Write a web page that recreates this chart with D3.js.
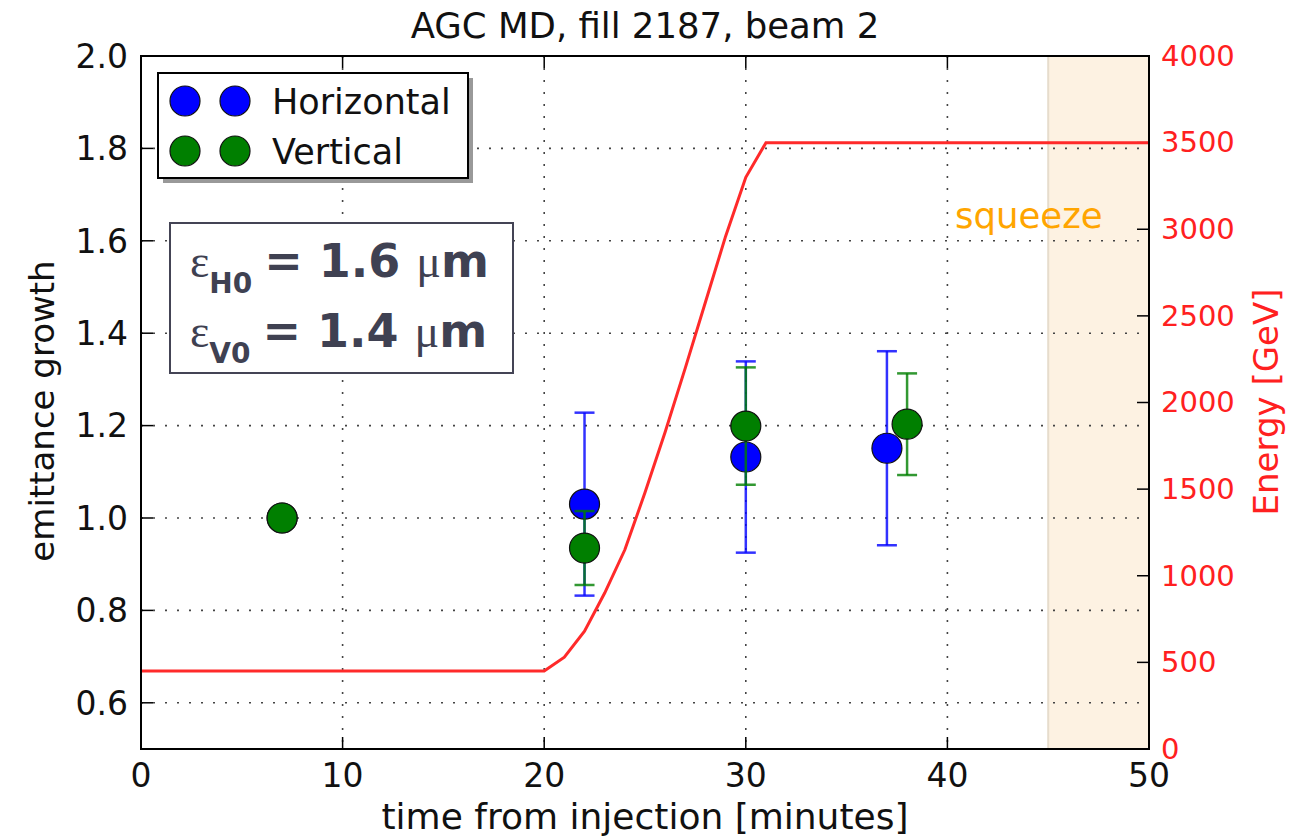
<!DOCTYPE html>
<html><head><meta charset="utf-8">
<script src="https://cdn.jsdelivr.net/npm/d3@7"></script>
<style>body{margin:0;background:#fff}svg text{font-family:"DejaVu Sans",sans-serif}</style>
</head><body><svg id="c" width="1293" height="836"></svg>
<script>
// ---- data ----
const xTicks = [0,10,20,30,40,50];
const yTicks = [0.6,0.8,1.0,1.2,1.4,1.6,1.8,2.0];
const eTicks = [0,500,1000,1500,2000,2500,3000,3500,4000];
const hTime = [7,22,30,37];
const hVal  = [1.0,1.03,1.132,1.151];
const hErr  = [0,0.198,0.207,0.21];
const vTime = [7,22,30,38];
const vVal  = [1.0,0.935,1.199,1.203];
const vErr  = [0,0.08,0.127,0.11];
const rampTime   = [0,20,21,22,23,24,25,26,27,28,29,30,31,50];
const rampEnergy = [450,450,530,680,900,1150,1480,1830,2200,2580,2960,3300,3500,3500];
const squeeze = [45,50];

const svg = d3.select("#c");
const L=141,R=1149,T=56,B=749;
const x = d3.scaleLinear().domain([0,50]).range([L,R]);
const y = d3.scaleLinear().domain([0.5,2.0]).range([B,T]);
const ye = d3.scaleLinear().domain([0,4000]).range([B,T]);

// squeeze span
svg.append("rect").attr("x",x(squeeze[0])).attr("y",T).attr("width",x(squeeze[1])-x(squeeze[0])).attr("height",B-T)
  .attr("fill","#fdf2e2");
svg.append("line").attr("x1",x(squeeze[0])).attr("x2",x(squeeze[0])).attr("y1",T).attr("y2",B).attr("stroke","#e6dccc").attr("stroke-width",2);

// grid
const grid = svg.append("g").attr("stroke","#444").attr("stroke-width",1.6).attr("stroke-dasharray","2,10");
xTicks.slice(1,-1).forEach(t=>grid.append("line").attr("x1",x(t)).attr("x2",x(t)).attr("y1",T).attr("y2",B));
yTicks.forEach(t=>grid.append("line").attr("x1",L).attr("x2",R).attr("y1",y(t)).attr("y2",y(t)));

// ticks (inward)
const tk = svg.append("g").attr("stroke","#000").attr("stroke-width",1.5);
xTicks.forEach(t=>{
  tk.append("line").attr("x1",x(t)).attr("x2",x(t)).attr("y1",B).attr("y2",B-12);
  tk.append("line").attr("x1",x(t)).attr("x2",x(t)).attr("y1",T).attr("y2",T+12);
});
yTicks.forEach(t=>tk.append("line").attr("x1",L).attr("x2",L+12).attr("y1",y(t)).attr("y2",y(t)));
eTicks.forEach(t=>tk.append("line").attr("x1",R).attr("x2",R-12).attr("y1",ye(t)).attr("y2",ye(t)));

// energy ramp
svg.append("path").datum(rampTime.map((t,i)=>[t,rampEnergy[i]]))
  .attr("d",d3.line().x(d=>x(d[0])).y(d=>ye(d[1])))
  .attr("fill","none").attr("stroke","#ff2a2a").attr("stroke-width",3);

// error bars + markers
function series(times,vals,errs,col){
  const g = svg.append("g");
  times.forEach((t,i)=>{
    if(errs[i]>0){
      const cx=x(t), y1=y(vals[i]+errs[i]), y2=y(vals[i]-errs[i]);
      g.append("line").attr("x1",cx).attr("x2",cx).attr("y1",y1).attr("y2",y2).attr("stroke",col).attr("stroke-width",2.5).attr("opacity",0.8);
      [y1,y2].forEach(yy=>g.append("line").attr("x1",cx-10).attr("x2",cx+10).attr("y1",yy).attr("y2",yy).attr("stroke",col).attr("stroke-width",2.5).attr("opacity",0.8));
    }
  });
  times.forEach((t,i)=>g.append("circle").attr("cx",x(t)).attr("cy",y(vals[i])).attr("r",15)
    .attr("fill",col).attr("stroke","#111").attr("stroke-width",1.2));
}
series(hTime,hVal,hErr,"#0000ff");
series(vTime,vVal,vErr,"#007f00");

// frame
svg.append("rect").attr("x",L).attr("y",T).attr("width",R-L).attr("height",B-T).attr("fill","none").attr("stroke","#000").attr("stroke-width",2);

// tick labels
const tl = svg.append("g").attr("font-size",33).attr("fill","#111");
xTicks.forEach(t=>tl.append("text").attr("x",x(t)).attr("y",787).attr("text-anchor","middle").text(t));
yTicks.forEach(t=>tl.append("text").attr("x",L-13).attr("y",y(t)).attr("dy","0.36em").attr("text-anchor","end").text(t.toFixed(1)));
const el = svg.append("g").attr("font-size",29).attr("fill","#ff2020");
eTicks.forEach(t=>el.append("text").attr("x",R+12).attr("y",ye(t)).attr("dy","0.34em").text(t));

// titles
svg.append("text").attr("x",(L+R)/2).attr("y",38).attr("text-anchor","middle").attr("font-size",35.5).attr("fill","#111").text("AGC MD, fill 2187, beam 2");
svg.append("text").attr("x",(L+R)/2).attr("y",829).attr("text-anchor","middle").attr("font-size",36).attr("fill","#111").text("time from injection [minutes]");
svg.append("text").attr("transform","translate(54,411) rotate(-90)").attr("text-anchor","middle").attr("font-size",34).attr("fill","#111").text("emittance growth");
svg.append("text").attr("transform","translate(1278,402) rotate(-90)").attr("text-anchor","middle").attr("font-size",34).attr("fill","#ff2020").text("Energy [GeV]");

// squeeze label
svg.append("text").attr("x",955).attr("y",228).attr("font-size",35.5).attr("fill","#ffa500").text("squeeze");

// legend
const lg = svg.append("g");
lg.append("rect").attr("x",163).attr("y",78).attr("width",310).attr("height",105).attr("fill","#999");
lg.append("rect").attr("x",158).attr("y",73).attr("width",310).attr("height",105).attr("fill","#fff").attr("stroke","#000").attr("stroke-width",2);
[["Horizontal","#0000ff",101],["Vertical","#007f00",151]].forEach(([n,c,yy])=>{
  [185,235].forEach(cx=>lg.append("circle").attr("cx",cx).attr("cy",yy).attr("r",15).attr("fill",c).attr("stroke","#111").attr("stroke-width",1.2));
  lg.append("text").attr("x",272).attr("y",yy).attr("dy","0.36em").attr("font-size",35).attr("fill","#111").text(n);
});

// emittance box
const bx = svg.append("g");
bx.append("rect").attr("x",170).attr("y",223).attr("width",343).attr("height",150).attr("fill","#fff").attr("stroke","#444455").attr("stroke-width",2);
[["H0","1.6",277],["V0","1.4",347]].forEach(([sub,val,base])=>{
  const t = bx.append("text").attr("x",190).attr("y",base).attr("fill","#3f4152").attr("font-size",46).attr("font-family","Liberation Sans, Arial, sans-serif").attr("font-weight","bold");
  t.append("tspan").attr("font-family","Liberation Serif, serif").attr("font-weight","normal").text("ε");
  t.append("tspan").attr("font-size",28).attr("dy",16).text(sub);
  t.append("tspan").attr("dy",-16).attr("dx",12).text("= "+val+" ");
  t.append("tspan").attr("font-family","Liberation Serif, serif").attr("font-weight","normal").text("μ");
  t.append("tspan").text("m");
});
</script></body></html>
